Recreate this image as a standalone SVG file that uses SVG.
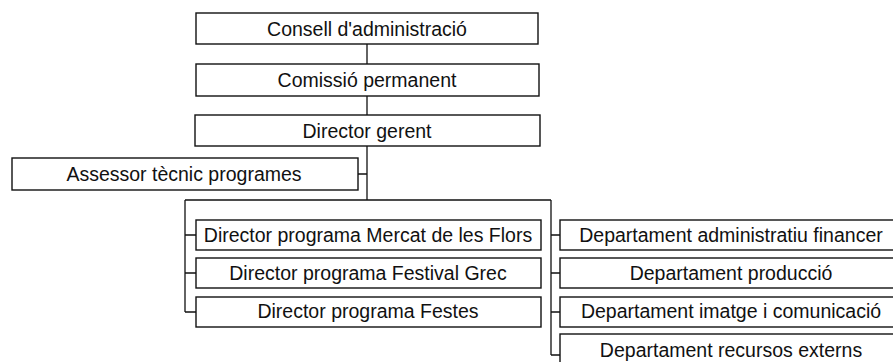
<svg xmlns="http://www.w3.org/2000/svg" width="893" height="362" viewBox="0 0 893 362">
<style>
.box{fill:#fff;stroke:#111;stroke-width:1.4}
.lbl{font-family:"Liberation Sans",Arial,sans-serif;font-size:19.5px;fill:#111;text-anchor:middle}
.con{fill:none;stroke:#111;stroke-width:1.3}
</style>
<rect width="893" height="362" fill="#fff"/>
<g id="connectors">
<path class="con" d="M367 44V64M367 96V115M367 146V200M358 174H367M185 200H551M185 200V312M185 235H196M185 273H196M185 312H196M551 200V355M551 235H560M551 273H560M551 312H560M551 355H560"/>
</g>
<g id="consell"><rect class="box" x="196" y="13" width="342" height="31"/><text class="lbl" x="367" y="35.5">Consell d'administració</text></g>
<g id="comissio"><rect class="box" x="196" y="64" width="343" height="32"/><text class="lbl" x="367" y="87">Comissió permanent</text></g>
<g id="director-gerent"><rect class="box" x="195" y="115" width="345" height="31"/><text class="lbl" x="367" y="137.5">Director gerent</text></g>
<g id="assessor"><rect class="box" x="12" y="158" width="346" height="32"/><text class="lbl" x="184" y="181">Assessor tècnic programes</text></g>
<g id="dir-mercat"><rect class="box" x="196" y="220" width="345" height="30"/><text class="lbl" x="368" y="241.5">Director programa Mercat de les Flors</text></g>
<g id="dir-grec"><rect class="box" x="196" y="258" width="345" height="30"/><text class="lbl" x="368" y="279.5">Director programa Festival Grec</text></g>
<g id="dir-festes"><rect class="box" x="196" y="297" width="345" height="30"/><text class="lbl" x="368" y="318">Director programa Festes</text></g>
<g id="dep-admin"><rect class="box" x="560" y="220" width="345" height="30"/><text class="lbl" x="731" y="241.5">Departament administratiu financer</text></g>
<g id="dep-produccio"><rect class="box" x="560" y="258" width="345" height="30"/><text class="lbl" x="731" y="279.5">Departament producció</text></g>
<g id="dep-imatge"><rect class="box" x="560" y="297" width="345" height="30"/><text class="lbl" x="731" y="318">Departament imatge i comunicació</text></g>
<g id="dep-recursos"><rect class="box" x="560" y="334" width="345" height="32"/><text class="lbl" x="731" y="357">Departament recursos externs</text></g>
</svg>
